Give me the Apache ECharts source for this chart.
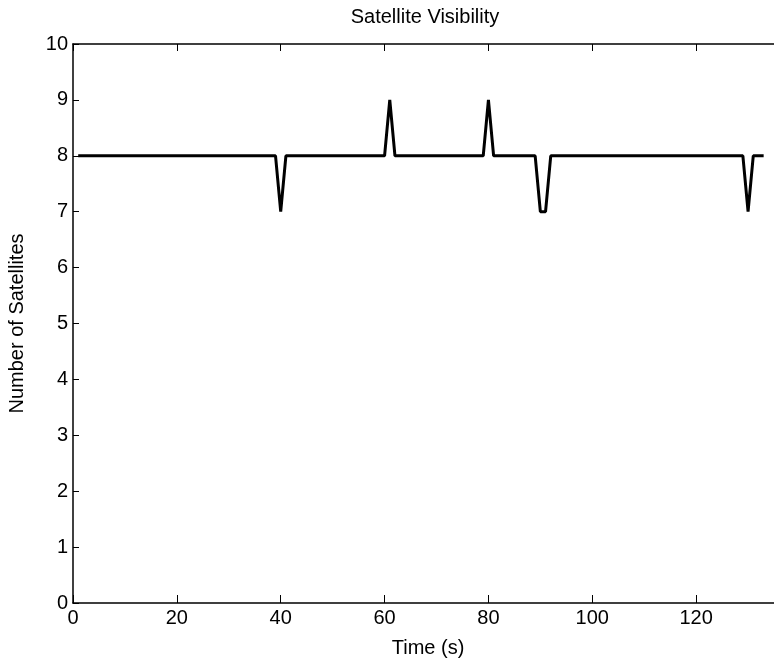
<!DOCTYPE html>
<html>
<head>
<meta charset="utf-8">
<script src="https://cdn.jsdelivr.net/npm/echarts@6/dist/echarts.min.js"></script>
<style>
  html, body { margin: 0; padding: 0; background: #fff; }
</style>
</head>
<body>
<div id="myChart" style="width: 774px; height: 662px;"></div>
<script>
  // vertices of the visibility trace (time in s, satellites in view)
  var times = [1, 39, 40, 41, 60, 61, 62, 79, 80, 81, 89, 90, 91, 92, 129, 130, 131, 133];
  var satCount = [8, 8, 7, 8, 8, 9, 8, 8, 9, 8, 8, 7, 7, 8, 8, 7, 8, 8];
  var xTicks = [0, 20, 40, 60, 80, 100, 120, 140];
  var yTicks = [0, 1, 2, 3, 4, 5, 6, 7, 8, 9, 10];

  var font = 'Liberation Sans, Arial, sans-serif';
  var myChart = echarts.init(document.getElementById('myChart'));

  var points = [];
  for (var i = 0; i < times.length; i++) {
    points.push([times[i], satCount[i]]);
  }

  myChart.setOption({
    animation: false,
    backgroundColor: '#fff',
    grid: {
      left: 73,
      top: 44,
      bottom: 59,
      right: -26,
      containLabel: false,
      outerBoundsMode: 'none'
    },
    graphic: [
      {
        type: 'text',
        x: 425,
        y: 27,
        style: {
          text: 'Satellite Visibility',
          align: 'center',
          verticalAlign: 'bottom',
          font: '20px ' + font,
          fill: '#000'
        }
      },
      {
        type: 'text',
        x: 428,
        y: 658,
        style: {
          text: 'Time (s)',
          align: 'center',
          verticalAlign: 'bottom',
          font: '20px ' + font,
          fill: '#000'
        }
      }
    ],
    xAxis: [
      {
        type: 'value',
        position: 'bottom',
        min: xTicks[0],
        max: xTicks[xTicks.length - 1],
        interval: 20,
        axisLine: { show: true, onZero: false, lineStyle: { color: '#000', width: 1.5 } },
        axisTick: { show: true, inside: true, length: 8, lineStyle: { color: '#000' } },
        axisLabel: { color: '#000', fontSize: 20, fontFamily: font, margin: 5 },
        splitLine: { show: false }
      },
      {
        type: 'value',
        position: 'top',
        min: xTicks[0],
        max: xTicks[xTicks.length - 1],
        interval: 20,
        axisLine: { show: true, onZero: false, lineStyle: { color: '#000', width: 1.5 } },
        axisTick: { show: true, inside: true, length: 7, lineStyle: { color: '#000' } },
        axisLabel: { show: false },
        splitLine: { show: false }
      }
    ],
    yAxis: {
      type: 'value',
      min: yTicks[0],
      max: yTicks[yTicks.length - 1],
      interval: 1,
      name: 'Number of Satellites',
      nameLocation: 'middle',
      nameGap: 46,
      nameTextStyle: { color: '#000', fontSize: 20, fontFamily: font },
      axisLine: { show: true, onZero: false, lineStyle: { color: '#000', width: 1.5 } },
      axisTick: { show: true, inside: true, length: 6, lineStyle: { color: '#000' } },
      axisLabel: { color: '#000', fontSize: 20, fontFamily: font, margin: 5 },
      splitLine: { show: false }
    },
    series: [{
      type: 'line',
      data: points,
      showSymbol: false,
      symbol: 'none',
      lineStyle: { color: '#000', width: 3 },
      xAxisIndex: 0
    }]
  });
</script>
</body>
</html>
